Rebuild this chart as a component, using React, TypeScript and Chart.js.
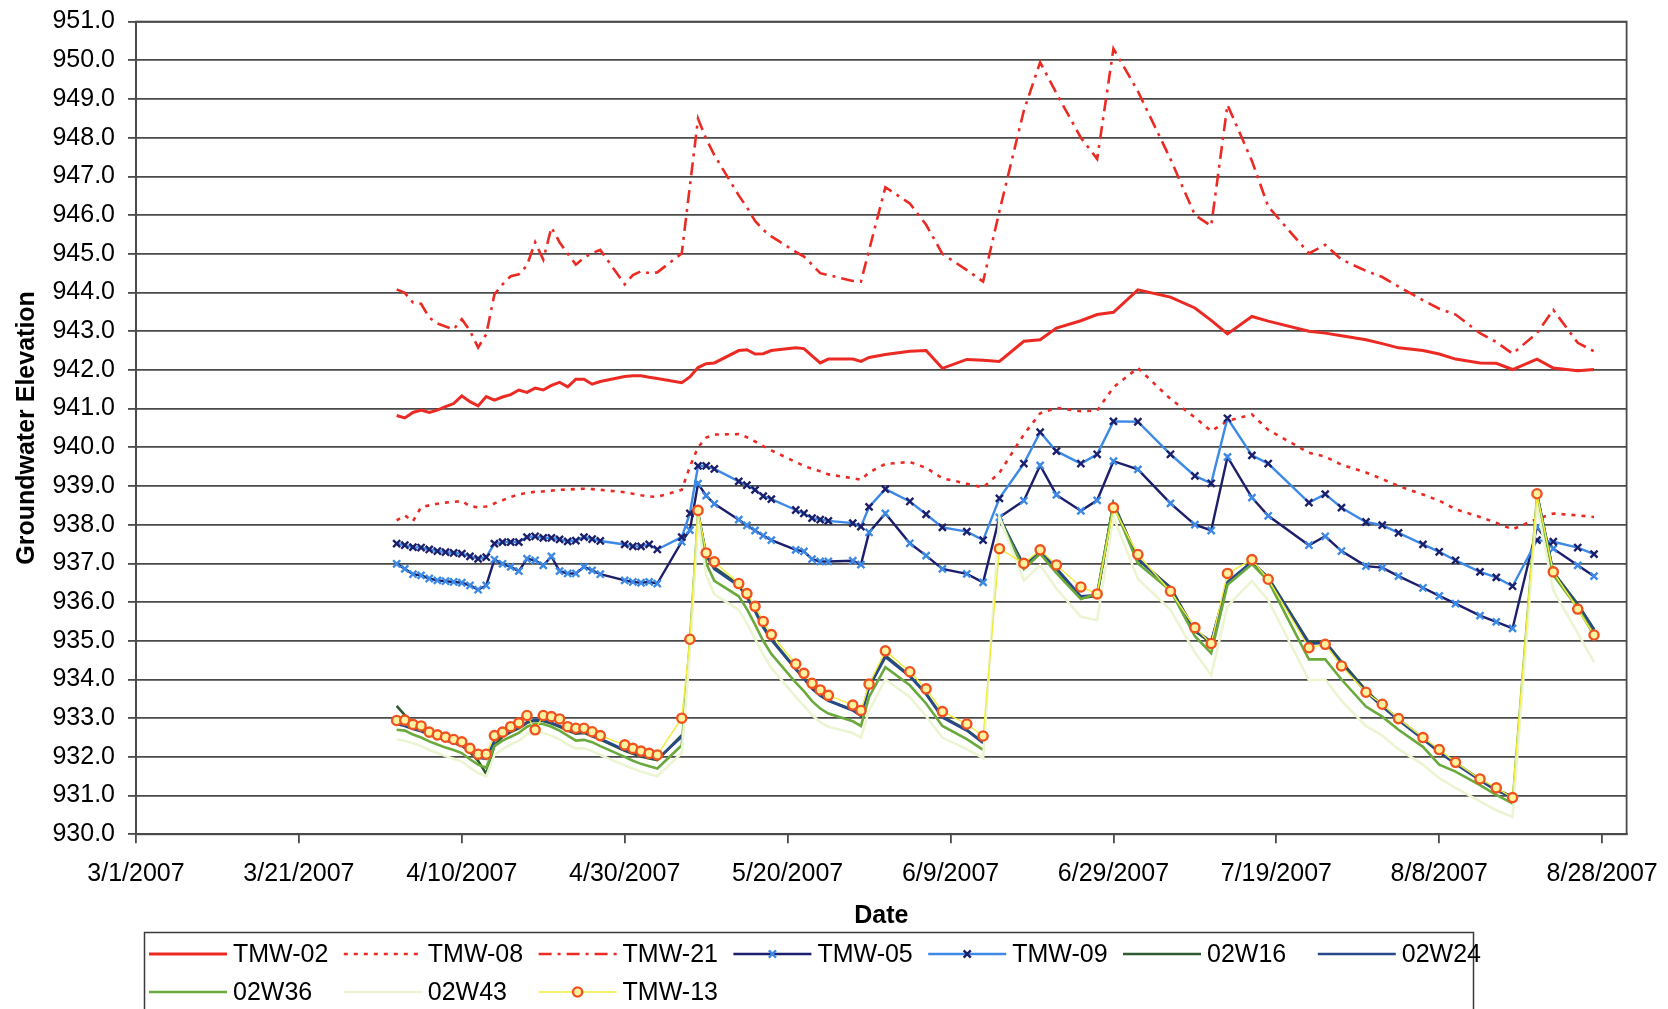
import React, { useEffect, useRef } from 'react';
import { Chart, registerables } from 'chart.js';

Chart.register(...registerables);

// Day numbers are counted from 3/1/2007 (day 0).
const axisTickDays = [0, 20, 40, 60, 80, 100, 120, 140, 160, 180];
const axisTickLabels = ['3/1/2007', '3/21/2007', '4/10/2007', '4/30/2007', '5/20/2007', '6/9/2007', '6/29/2007', '7/19/2007', '8/8/2007', '8/28/2007'];

// Common sampling days for the monitoring wells.
const sampleDays = [
  32, 33, 34, 35, 36, 37, 38, 39, 40, 41, 42, 43, 44, 45, 46, 47, 48, 49, 50, 51, 52, 53, 54, 55, 56, 57,
  60, 61, 62, 63, 64,
  67, 68, 69, 70, 71,
  74, 75, 76, 77, 78,
  81, 82, 83, 84, 85,
  88, 89, 90, 92,
  95, 97, 99,
  102, 104, 105, 106,
  109, 111, 113, 116, 118, 120, 123,
  127, 130, 132, 134, 137, 139,
  144, 146, 148, 151, 153, 155,
  158, 160, 162, 165, 167, 169, 170,
  172, 174, 177, 179,
];

const tmw02 = [
  940.82, 940.76, 940.90, 940.96, 940.90, 940.96, 941.05, 941.13, 941.33, 941.18, 941.07, 941.31, 941.22, 941.30, 941.36, 941.48, 941.42, 941.53, 941.48, 941.60, 941.68, 941.56, 941.76, 941.76, 941.63, 941.70,
  941.83, 941.85, 941.85, 941.81, 941.78,
  941.67, 941.82, 942.06, 942.16, 942.18,
  942.50, 942.52, 942.41, 942.42, 942.50,
  942.57, 942.55, 942.36, 942.18, 942.28,
  942.28, 942.22, 942.32, 942.40,
  942.48, 942.50, 942.04,
  942.27, 942.25, null, 942.22,
  942.74, 942.78, 943.08, 943.27, 943.43, 943.49, 944.07,
  943.88, 943.60, 943.28, 942.93, 943.38, 943.26,
  943.00, 942.95, 942.88, 942.78, 942.68, 942.57,
  942.50, 942.41, 942.28, 942.18, 942.17, 942.01, null,
  942.28, 942.05, 941.98, 942.01,
];

const tmw08 = [
  938.11, 938.24, 938.09, 938.45, 938.50, 938.54, 938.57, 938.59, 938.61, 938.48, 938.45, 938.47, 938.55, 938.63, 938.72, 938.78, 938.82, 938.85, 938.86, 938.88, 938.90, 938.91, 938.92, 938.93, 938.92, 938.90,
  938.84, 938.80, 938.76, 938.73, 938.72,
  938.90, 939.50, 940.00, 940.25, 940.33,
  940.34, 940.26, 940.15, 940.03, 939.92,
  939.62, 939.52, 939.44, 939.38, 939.30,
  939.20, 939.16, 939.35, 939.57,
  939.62, 939.47, 939.20,
  939.06, 938.96, null, 939.34,
  940.33, 940.88, 941.02, 940.93, 940.95, 941.55, 942.05,
  941.25, 940.77, 940.42, 940.68, 940.85, 940.45,
  939.86, 939.76, 939.55, 939.35, 939.18, 939.00,
  938.78, 938.62, 938.40, 938.20, 938.05, 937.88, null,
  938.15, 938.29, 938.24, 938.20,
];

// TMW-21 was read on its own schedule.
const tmw21Days = [
  32, 33, 34, 35, 36, 37, 38, 39, 40, 41, 42, 43, 44, 45, 46, 47, 48, 49, 50, 51, 52, 53, 54, 55, 56, 57,
  60, 61, 62, 63, 64,
  67, 69, 70, 71,
  74, 75, 76, 77, 78,
  81, 82, 83, 84, 85,
  88, 89, 92,
  95, 97, 99,
  102, 104, 106,
  109, 111, 113, 116, 118, 120, 123,
  127, 130, 132, 134, 137, 139,
  144, 146, 148, 151, 153, 155,
  158, 160, 162, 165, 167, 169,
  172, 174, 177, 179,
];
const tmw21 = [
  944.08, 943.99, 943.74, 943.71, 943.35, 943.20, 943.12, 943.05, 943.31, 943.01, 942.58, 942.92, 943.95, 944.21, 944.42, 944.47, 944.70, 945.30, 944.85, 945.68, 945.30, 945.00, 944.72, 944.90, 945.02, 945.10,
  944.21, 944.45, 944.55, 944.50, 944.52,
  945.01, 948.49, 947.97, 947.55,
  946.51, 946.20, 945.85, 945.62, 945.45,
  945.05, 944.93, 944.72, 944.50, 944.45,
  944.30, 944.28, 946.72,
  946.30, 945.75, 945.00,
  944.58, 944.28, 946.10,
  948.70, 949.95, 949.15, 948.00, 947.45, 950.30, 949.20,
  947.45, 946.00, 945.72, 948.85, 947.40, 946.22,
  945.01, 945.23, 944.85, 944.56, 944.40, 944.15,
  943.80, 943.58, 943.43, 942.95, 942.72, 942.42,
  942.95, 943.55, 942.70, 942.48,
];

const tmw05 = [
  936.99, 936.86, 936.72, 936.69, 936.61, 936.56, 936.54, 936.52, 936.50, 936.43, 936.32, 936.43, 937.10, 936.99, 936.91, 936.80, 937.12, 937.08, 936.95, 937.18, 936.80, 936.74, 936.74, 936.91, 936.82, 936.72,
  936.56, 936.52, 936.50, 936.52, 936.48,
  937.56, 937.86, 939.06, 938.75, 938.54,
  938.13, 937.98, 937.85, 937.72, 937.60,
  937.35, 937.31, 937.11, 937.05, 937.05,
  937.07, 936.97, 937.80, 938.29,
  937.52, 937.20, 936.86,
  936.73, 936.51, null, 938.19,
  938.62, 939.53, 938.77, 938.36, 938.63, 939.64, 939.43,
  938.55, 938.00, 937.85, 939.75, 938.70, 938.23,
  937.47, 937.70, 937.32, 936.93, 936.89, 936.67,
  936.37, 936.16, 935.96, 935.65, 935.49, 935.32, null,
  937.94, 937.38, 936.95, 936.67,
];

const tmw09 = [
  937.51, 937.47, 937.42, 937.41, 937.36, 937.32, 937.29, 937.27, 937.25, 937.18, 937.12, 937.16, 937.51, 937.55, 937.55, 937.55, 937.68, 937.70, 937.66, 937.66, 937.62, 937.57, 937.59, 937.68, 937.63, 937.58,
  937.49, 937.44, 937.44, 937.49, 937.36,
  937.68, 938.29, 939.52, 939.52, 939.44,
  939.12, 939.02, 938.90, 938.74, 938.66,
  938.38, 938.29, 938.17, 938.13, 938.10,
  938.04, 937.95, 938.46, 938.92,
  938.60, 938.27, 937.93,
  937.82, 937.60, null, 938.68,
  939.58, 940.39, 939.90, 939.58, 939.82, 940.67, 940.66,
  939.82, 939.26, 939.07, 940.75, 939.79, 939.58,
  938.57, 938.79, 938.44, 938.07, 937.99, 937.79,
  937.49, 937.30, 937.08, 936.78, 936.64, 936.41, null,
  937.60, 937.56, 937.41, 937.24,
];

const w02W16 = [
  933.32, 933.08, 932.86, 932.72, 932.62, 932.52, 932.45, 932.38, 932.30, 932.12, 931.90, 931.56, 932.30, 932.52, 932.64, 932.74, 932.88, 932.94, 932.93, 932.86, 932.78, 932.68, 932.60, 932.62, 932.53, 932.45,
  932.16, 932.08, 932.01, 931.96, 931.92,
  932.56, null, 938.32, 937.22, 936.90,
  936.45, 936.15, 935.80, 935.38, 935.05,
  934.28, 934.04, 933.78, 933.60, 933.46,
  933.22, 933.08, 933.82, 934.62,
  934.10, 933.64, 933.04,
  932.70, 932.38, null, 938.20,
  936.92, 937.32, 936.85, 936.10, 936.16, 938.55, 937.10,
  936.38, 935.25, 934.95, 936.50, 937.02, 936.64,
  934.96, 934.98, 934.46, 933.72, 933.33, 932.97,
  932.48, 932.14, 931.84, 931.42, 931.15, 930.98, null,
  938.80, 936.78, 935.95, 935.30,
];

const w02W24 = [
  932.85, 932.80, 932.72, 932.66, 932.58, 932.50, 932.43, 932.36, 932.29, 932.14, 931.98, 931.95, 932.42, 932.56, 932.66, 932.76, 932.90, 932.96, 932.94, 932.88, 932.80, 932.70, 932.62, 932.64, 932.55, 932.47,
  932.18, 932.10, 932.03, 931.98, 931.94,
  932.52, null, 938.30, 937.20, 936.85,
  936.42, 936.12, 935.76, 935.34, 935.02,
  934.26, 934.02, 933.76, 933.58, 933.45,
  933.20, 933.06, 933.80, 934.58,
  934.08, 933.62, 933.02,
  932.68, 932.36, null, 938.18,
  936.95, 937.30, 936.88, 936.15, 936.18, 938.55, 937.12,
  936.36, 935.27, 934.98, 936.52, 937.04, 936.62,
  934.92, 934.95, 934.42, 933.68, 933.30, 932.95,
  932.46, 932.12, 931.82, 931.40, 931.13, 930.96, null,
  938.78, 936.75, 935.92, 935.28,
];

const w02W36 = [
  932.70, 932.68, 932.58, 932.50, 932.40, 932.32, 932.24, 932.18, 932.10, 931.94, 931.80, 931.72, 932.28, 932.42, 932.52, 932.62, 932.78, 932.86, 932.85, 932.78, 932.68, 932.55, 932.42, 932.44, 932.38, 932.28,
  932.00, 931.90, 931.82, 931.76, 931.70,
  932.30, 934.95, 938.25, 937.00, 936.55,
  936.15, 935.82, 935.42, 935.00, 934.66,
  933.92, 933.70, 933.44, 933.25, 933.12,
  932.92, 932.80, 933.55, 934.32,
  933.85, 933.38, 932.80,
  932.46, 932.18, null, 938.15,
  936.85, 937.25, 936.75, 936.08, 936.22, 938.52, 937.00,
  936.30, 935.12, 934.68, 936.45, 936.98, 936.55,
  934.52, 934.52, 934.00, 933.30, 933.04, 932.70,
  932.26, 931.80, 931.62, 931.27, 931.02, 930.80, 933.45,
  938.72, 936.70, 935.85, 935.15,
];

const w02W43 = [
  932.45, 932.42, 932.35, 932.28, 932.18, 932.10, 932.02, 931.95, 931.88, 931.72, 931.58, 931.50, 932.05, 932.20, 932.32, 932.42, 932.58, 932.65, 932.62, 932.55, 932.45, 932.32, 932.22, 932.22, 932.15, 932.05,
  931.78, 931.70, 931.62, 931.56, 931.50,
  932.10, 934.70, 938.10, 936.70, 936.20,
  935.80, 935.45, 935.05, 934.65, 934.30,
  933.55, 933.32, 933.08, 932.90, 932.78,
  932.62, 932.50, 933.20, 934.00,
  933.55, 933.05, 932.50,
  932.20, 931.97, null, 938.20,
  936.56, 936.95, 936.35, 935.62, 935.53, 938.20, 936.60,
  935.80, 934.70, 934.11, 935.90, 936.55, 936.05,
  933.98, 934.00, 933.45, 932.80, 932.55, 932.20,
  931.80, 931.45, 931.20, 930.85, 930.62, 930.45, null,
  938.50, 936.30, 935.20, 934.45,
];

const tmw13 = [
  932.94, 932.95, 932.84, 932.80, 932.64, 932.57, 932.51, 932.45, 932.39, 932.22, 932.07, 932.07, 932.55, 932.64, 932.78, 932.88, 933.07, 932.70, 933.07, 933.04, 932.98, 932.78, 932.74, 932.74, 932.65, 932.55,
  932.31, 932.22, 932.15, 932.09, 932.05,
  933.00, 935.04, 938.37, 937.27, 937.04,
  936.48, 936.22, 935.89, 935.50, 935.16,
  934.40, 934.16, 933.90, 933.73, 933.59,
  933.34, 933.20, 933.88, 934.74,
  934.20, 933.76, 933.17,
  932.85, 932.54, null, 937.38,
  937.00, 937.35, 936.96, 936.39, 936.21, 938.44, 937.23,
  936.28, 935.34, 934.93, 936.74, 937.10, 936.59,
  934.82, 934.91, 934.35, 933.67, 933.36, 932.99,
  932.50, 932.19, 931.86, 931.43, 931.20, 930.95, null,
  938.80, 936.78, 935.82, 935.15,
];

const FONT = '"Liberation Sans", Arial, Helvetica, sans-serif';
const RED = '#ec2a24';
const NAVY = '#1c1f6c';
const SKY = '#3d8ae6';
const GRID = '#4a4a4a';

const toPoints = (days: number[], values: (number | null)[]) =>
  values.map((y, i) => ({ x: days[i], y }));

const lineSet = (label: string, data: any[], color: string, extra: any = {}) => ({
  label,
  data,
  borderColor: color,
  backgroundColor: color,
  borderWidth: 2.6,
  pointRadius: 0,
  pointHoverRadius: 0,
  tension: 0,
  fill: false,
  spanGaps: true,
  ...extra,
});

// Frame around the plot area.
const framePlugin = {
  id: 'plotFrame',
  beforeDatasetsDraw(chart: any) {
    const { ctx, chartArea: a } = chart;
    ctx.save();
    ctx.strokeStyle = GRID;
    ctx.lineWidth = 1.8;
    ctx.strokeRect(a.left, a.top, a.right - a.left, a.bottom - a.top);
    ctx.restore();
  },
};

function drawMarker(ctx: CanvasRenderingContext2D, ds: any, x: number, y: number) {
  if (!ds.pointRadius) return;
  const r = ds.pointRadius;
  ctx.save();
  ctx.setLineDash([]);
  ctx.lineWidth = ds.pointBorderWidth || 1;
  ctx.strokeStyle = ds.pointBorderColor;
  ctx.fillStyle = ds.pointBackgroundColor;
  ctx.beginPath();
  if (ds.pointStyle === 'crossRot') {
    const d = r * Math.SQRT1_2;
    ctx.moveTo(x - d, y - d);
    ctx.lineTo(x + d, y + d);
    ctx.moveTo(x + d, y - d);
    ctx.lineTo(x - d, y + d);
    ctx.stroke();
  } else {
    ctx.arc(x, y, r, 0, Math.PI * 2);
    ctx.fill();
    ctx.stroke();
  }
  ctx.restore();
}

// Boxed legend with fixed-width columns below the axis title.
const legendPlugin = {
  id: 'boxedLegend',
  afterDraw(chart: any) {
    const { ctx } = chart;
    const boxLeft = 144;
    const boxTop = 932;
    const boxRight = 1473;
    ctx.save();
    ctx.fillStyle = '#ffffff';
    ctx.fillRect(boxLeft, boxTop, boxRight - boxLeft, 100);
    ctx.strokeStyle = '#3a3a3a';
    ctx.lineWidth = 1.5;
    ctx.strokeRect(boxLeft + 0.5, boxTop + 0.5, boxRight - boxLeft, 100);
    ctx.font = `25px ${FONT}`;
    ctx.textBaseline = 'middle';
    ctx.textAlign = 'left';
    chart.data.datasets.forEach((ds: any, i: number) => {
      const col = i % 7;
      const row = Math.floor(i / 7);
      const x0 = 149 + col * 194.8;
      const y = 954 + row * 38;
      ctx.save();
      ctx.beginPath();
      ctx.setLineDash(ds.borderDash || []);
      ctx.strokeStyle = ds.borderColor;
      ctx.lineWidth = ds.borderWidth;
      ctx.moveTo(x0, y);
      ctx.lineTo(x0 + 78, y);
      ctx.stroke();
      ctx.restore();
      drawMarker(ctx, ds, x0 + 39, y);
      ctx.fillStyle = '#000';
      ctx.fillText(ds.label, x0 + 84, y + 1);
    });
    ctx.restore();
  },
};

export default function App() {
  const canvasRef = useRef<HTMLCanvasElement | null>(null);

  useEffect(() => {
    if (!canvasRef.current) return;
    const datasets = [
      lineSet('TMW-02', toPoints(sampleDays, tmw02), RED, { borderWidth: 3, order: 10 }),
      lineSet('TMW-08', toPoints(sampleDays, tmw08), RED, { borderDash: [4, 6], order: 9 }),
      lineSet('TMW-21', toPoints(tmw21Days, tmw21), RED, { borderDash: [13, 6, 3, 6], order: 8 }),
      lineSet('TMW-05', toPoints(sampleDays, tmw05), NAVY, {
        borderWidth: 2.4,
        pointStyle: 'crossRot',
        pointRadius: 5,
        pointBorderWidth: 2.4,
        pointBorderColor: SKY,
        pointBackgroundColor: SKY,
        order: 7,
      }),
      lineSet('TMW-09', toPoints(sampleDays, tmw09), SKY, {
        borderWidth: 2.4,
        pointStyle: 'crossRot',
        pointRadius: 5,
        pointBorderWidth: 2.4,
        pointBorderColor: NAVY,
        pointBackgroundColor: NAVY,
        order: 6,
      }),
      lineSet('02W16', toPoints(sampleDays, w02W16), '#2e5a32', { spanGaps: false, order: 5 }),
      lineSet('02W24', toPoints(sampleDays, w02W24), '#28498a', { spanGaps: false, order: 4 }),
      lineSet('02W36', toPoints(sampleDays, w02W36), '#6aaa3c', { spanGaps: false, order: 3 }),
      lineSet('02W43', toPoints(sampleDays, w02W43), '#ecf5d2', { order: 2 }),
      lineSet('TMW-13', toPoints(sampleDays, tmw13), '#f2ec3a', {
        borderWidth: 1.4,
        pointStyle: 'circle',
        pointRadius: 4.6,
        pointBorderWidth: 2.4,
        pointBorderColor: '#f0521f',
        pointBackgroundColor: '#fff3a0',
        order: 1,
      }),
    ];

    const chart = new Chart(canvasRef.current, {
      type: 'line',
      data: { datasets } as any,
      plugins: [framePlugin, legendPlugin],
      options: {
        responsive: false,
        maintainAspectRatio: false,
        animation: false,
        devicePixelRatio: 1,
        events: [],
        layout: { padding: { left: 0, right: 41.4, top: 21.6, bottom: 75.6 } },
        plugins: {
          legend: { display: false },
          tooltip: { enabled: false },
        },
        scales: {
          x: {
            type: 'linear',
            min: 0,
            max: 183,
            afterBuildTicks: (axis: any) => {
              axis.ticks = axisTickDays.map((value) => ({ value }));
            },
            afterFit: (axis: any) => {
              axis.height = 99.1;
              axis.paddingLeft = 0;
              axis.paddingRight = 0;
            },
            grid: { drawOnChartArea: false, drawTicks: true, tickLength: 9, color: GRID, lineWidth: 1.8 },
            border: { display: true, color: GRID, width: 1.8 },
            ticks: {
              autoSkip: false,
              maxRotation: 0,
              padding: 16,
              color: '#000',
              font: { family: FONT, size: 25 },
              callback: (v: any) => {
                const k = axisTickDays.indexOf(Number(v));
                return k >= 0 ? axisTickLabels[k] : '';
              },
            },
            title: {
              display: true,
              text: 'Date',
              color: '#000',
              font: { family: FONT, size: 25, weight: 'bold' },
              padding: { top: 0, bottom: 2 },
            },
          },
          y: {
            type: 'linear',
            min: 930,
            max: 951,
            afterFit: (axis: any) => {
              axis.width = 136;
              axis.paddingTop = 0;
              axis.paddingBottom = 0;
            },
            grid: { color: GRID, lineWidth: 1.8, tickLength: 8 },
            border: { display: true, color: GRID, width: 1.8 },
            ticks: {
              stepSize: 1,
              autoSkip: false,
              padding: 13,
              color: '#000',
              font: { family: FONT, size: 25 },
              callback: (v: any) => Number(v).toFixed(1),
            },
            title: {
              display: true,
              text: 'Groundwater Elevation',
              color: '#000',
              font: { family: FONT, size: 25, weight: 'bold' },
              padding: { top: 12, bottom: 0 },
            },
          },
        },
      } as any,
    });

    return () => chart.destroy();
  }, []);

  return (
    <div style={{ position: 'fixed', left: 0, top: 0, width: 1668, height: 1009, background: '#ffffff', overflow: 'hidden' }}>
      <canvas ref={canvasRef} width={1668} height={1009} style={{ display: 'block', width: 1668, height: 1009 }} />
    </div>
  );
}
